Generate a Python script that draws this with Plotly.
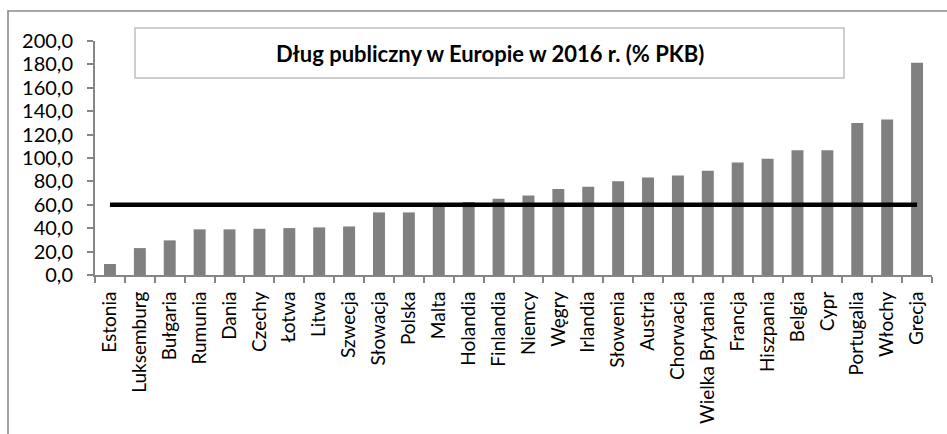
import plotly.graph_objects as go

countries = ["Estonia", "Luksemburg", "Bułgaria", "Rumunia", "Dania", "Czechy", "Łotwa",
             "Litwa", "Szwecja", "Słowacja", "Polska", "Malta", "Holandia", "Finlandia",
             "Niemcy", "Węgry", "Irlandia", "Słowenia", "Austria", "Chorwacja",
             "Wielka Brytania", "Francja", "Hiszpania", "Belgia", "Cypr", "Portugalia",
             "Włochy", "Grecja"]
debt = [9.4, 23.0, 29.6, 39.0, 39.0, 39.5, 40.1, 40.7, 41.5, 53.5, 53.5, 58.5, 62.3, 65.1,
        68.0, 73.4, 75.4, 80.2, 83.4, 85.1, 89.0, 96.2, 99.3, 106.7, 106.7, 130.0, 132.9, 181.5]
limit = [60.0] * len(countries)
title_text = "Dług publiczny w Europie w 2016 r. (% PKB)"

FONT = "Lato, 'Open Sans', sans-serif"

fig = go.Figure()
fig.add_trace(go.Bar(x=countries, y=debt, marker=dict(color="#808080", line=dict(width=0)),
                     width=0.4, showlegend=False, hoverinfo="x+y"))
fig.add_trace(go.Scatter(x=countries, y=limit, mode="lines",
                         line=dict(color="#000000", width=4.5), showlegend=False))

W, H = 947, 434
L, R, T, B = 95, 15, 41, 159
pw, ph = W - L - R, H - T - B

def px(x):
    return (x - L) / pw

def py(y):
    return (H - B - y) / ph

fig.update_layout(
    width=W, height=H,
    margin=dict(l=L, r=R, t=T, b=B, autoexpand=False),
    paper_bgcolor="white", plot_bgcolor="white",
    separators=", ",
    font=dict(family=FONT, size=16, color="#000000"),
    bargap=0.6,
    shapes=[
        dict(type="rect", xref="paper", yref="paper",
             x0=px(8), x1=px(960), y0=py(11), y1=py(460),
             line=dict(color="#8a8a8a", width=1.6), fillcolor="rgba(0,0,0,0)", layer="below"),
        dict(type="rect", xref="paper", yref="paper",
             x0=px(135), x1=px(844), y0=py(28), y1=py(78),
             line=dict(color="#c0c0c0", width=1.5), fillcolor="white", layer="below"),
    ],
    annotations=[
        dict(text="<b>" + title_text + "</b>", xref="paper", yref="paper",
             x=px(490), y=py(53), xanchor="center", yanchor="middle", showarrow=False,
             font=dict(family=FONT, size=22, color="#000000")),
    ],
)

fig.update_xaxes(
    type="category", tickangle=-90, showgrid=False,
    showline=True, linecolor="#868686", linewidth=2,
    ticks="outside", tickson="boundaries", ticklen=6, tickcolor="#868686", tickwidth=1.5,
    ticklabelstandoff=7,
    tickfont=dict(family=FONT, size=19, color="#000000"),
)
fig.update_yaxes(
    range=[0, 200], dtick=20, tickformat=".1f", showgrid=False,
    showline=True, linecolor="#868686", linewidth=2,
    ticks="outside", ticklen=6, tickcolor="#868686", tickwidth=1.5,
    ticklabelstandoff=10,
    tickfont=dict(family=FONT, size=20, color="#000000"),
    zeroline=False,
)

fig.write_html("out.html", config={"displayModeBar": False},
               post_script="document.body.style.margin='0';")
